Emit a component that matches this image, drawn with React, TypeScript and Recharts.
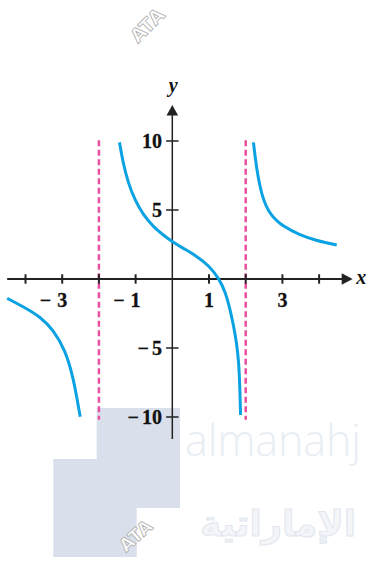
import React from 'react';
import { LineChart, Line, XAxis, YAxis, ReferenceLine, ReferenceDot } from 'recharts';

// ---- data ----
const leftBranchX = [-4.5, -4.06, -3.6, -3.24, -2.92, -2.7, -2.51];
const leftBranchY = [-1.4, -2.01, -2.73, -3.7, -5.14, -7.08, -9.98];

const middleBranchX = [-1.44, -1.34, -1.2, -1.02, -0.79, -0.52, -0.25, 0, 0.3, 0.62, 1.0, 1.28, 1.44, 1.57, 1.67, 1.75, 1.81, 1.84, 1.86];
const middleBranchY = [9.9, 8.4, 6.95, 5.72, 4.64, 3.79, 3.19, 2.7, 2.22, 1.74, 0.98, 0, -0.92, -2.13, -3.4, -4.6, -6.0, -7.8, -9.86];

const rightBranchX = [2.21, 2.3, 2.44, 2.66, 3.02, 3.48, 3.93, 4.48];
const rightBranchY = [9.9, 7.9, 5.96, 4.64, 3.79, 3.19, 2.78, 2.46];

const asymptoteX = [-2, 2];
const asymptoteTop = 10.05;
const asymptoteBottom = -10.2;

const xTickValues = [-4, -3, -2, -1, 1, 2, 3, 4];
const xTickLabelValues = [-3, -1, 1, 3];
const xTickLabels = ['−3', '−1', '1', '3'];
const yTickValues = [10, 5, -5, -10];
const yTickLabels = ['10', '5', '−5', '−10'];

const xAxisStart = -4.5;
const xAxisEnd = 4.8;
const xArrowTip = 4.915;
const yAxisStart = -11.6;
const yAxisEnd = 12.3;
const yArrowTip = 12.61;

const toPoints = (xs: number[], ys: number[]) => xs.map((x, i) => ({ x, y: ys[i] }));
const leftData = toPoints(leftBranchX, leftBranchY);
const middleData = toPoints(middleBranchX, middleBranchY);
const rightData = toPoints(rightBranchX, rightBranchY);

const CURVE = '#0aa2e2';
const PINK = '#e8509f';
const AXIS = '#222222';
const FONT = '"Liberation Serif", "Times New Roman", serif';
const FS = 20;
const DIGIT_W = 10;

function numLabel(label: string, x: number, baseline: number, mode: 'center' | 'right', gap: number) {
  const neg = label.startsWith('−');
  const digits = neg ? label.slice(1) : label;
  const w = digits.length * DIGIT_W;
  const left = mode === 'center' ? x - w / 2 : x - w;
  return (
    <g>
      <text x={left} y={baseline} textAnchor="start" fontFamily={FONT} fontWeight="bold" fontSize={FS} fill="#111" stroke="#111" strokeWidth={0.3}>
        {digits}
      </text>
      {neg && (
        <text x={left - gap} y={baseline} textAnchor="end" fontFamily={FONT} fontWeight="bold" fontSize={FS} fill="#111" stroke="#111" strokeWidth={0.3}>
          −
        </text>
      )}
    </g>
  );
}

export default function App() {
  return (
    <div style={{ position: 'absolute', left: 0, top: 0, width: 370, height: 562, background: '#ffffff', overflow: 'hidden' }}>
      <svg width={370} height={562} style={{ position: 'absolute', left: 0, top: 0 }}>
        <polygon
          points="96.7,408 180,408 180,508 136.7,508 136.7,557 53.3,557 53.3,459 96.7,459"
          fill="#d9dfeb"
        />
        <text x={185} y={456} fontFamily='"Open Sans", sans-serif' fontWeight={300} fontSize={44} fill="#e9edf4" textLength={176} lengthAdjust="spacingAndGlyphs">
          almanahj
        </text>
        <text x={200} y={536} fontFamily='"DejaVu Sans", sans-serif' fontWeight="bold" fontSize={36} fill="#f3f5f9" stroke="#e1e6ee" strokeWidth={1} textLength={156} lengthAdjust="spacingAndGlyphs">
          الإماراتية
        </text>
        <text x={138} y={44} transform="rotate(-45 138 44)" fontFamily='"DejaVu Sans", sans-serif' fontWeight="bold" fontSize={19} fill="#ffffff" stroke="#b5b5b5" strokeWidth={0.9}>
          ATA
        </text>
        <text x={126} y={553} transform="rotate(-42 126 553)" fontFamily='"DejaVu Sans", sans-serif' fontWeight="bold" fontSize={18} fill="#ffffff" stroke="#b5b5b5" strokeWidth={0.9}>
          ATA
        </text>
      </svg>
      <div style={{ position: 'absolute', left: 0, top: 0 }}>
        <LineChart width={370} height={562} margin={{ top: 99.6, right: 14.2, bottom: 103.6, left: 3.5 }}>
          <XAxis type="number" dataKey="x" domain={[-4.6, 5.0]} hide allowDataOverflow />
          <YAxis type="number" dataKey="y" domain={[-13, 13]} hide allowDataOverflow />

          {asymptoteX.map((ax) => (
            <ReferenceLine
              key={'as' + ax}
              segment={[{ x: ax, y: asymptoteTop }, { x: ax, y: asymptoteBottom }]}
              stroke={PINK}
              strokeWidth={2.5}
              strokeDasharray="6 3.5"
            />
          ))}

          <ReferenceLine segment={[{ x: xAxisStart, y: 0 }, { x: xAxisEnd, y: 0 }]} stroke={AXIS} strokeWidth={2} />
          <ReferenceLine segment={[{ x: 0, y: yAxisStart }, { x: 0, y: yAxisEnd }]} stroke={AXIS} strokeWidth={1.5} />

          {xTickValues.map((v) => (
            <ReferenceLine key={'xt' + v} segment={[{ x: v, y: -0.34 }, { x: v, y: 0.34 }]} stroke={AXIS} strokeWidth={2} />
          ))}
          {yTickValues.map((v) => (
            <ReferenceLine key={'yt' + v} segment={[{ x: -0.17, y: v }, { x: 0.17, y: v }]} stroke={AXIS} strokeWidth={1.5} />
          ))}

          {xTickLabelValues.map((v, i) => (
            <ReferenceDot
              key={'xl' + v}
              x={v}
              y={0}
              r={0}
              shape={(p: any) => numLabel(xTickLabels[i], p.cx, p.cy + 27.5, 'center', 6)}
            />
          ))}
          {yTickValues.map((v, i) => (
            <ReferenceDot
              key={'yl' + v}
              x={0}
              y={v}
              r={0}
              shape={(p: any) => numLabel(yTickLabels[i], p.cx - 10.3, p.cy + 6.7, 'right', 3)}
            />
          ))}

          <ReferenceDot
            x={xArrowTip}
            y={0}
            r={0}
            shape={(p: any) => (
              <g>
                <polygon points={`${p.cx},${p.cy} ${p.cx - 11},${p.cy - 5.8} ${p.cx - 11},${p.cy + 5.8}`} fill={AXIS} />
                <text x={p.cx + 3.5} y={p.cy + 4.5} fontFamily={FONT} fontStyle="italic" fontWeight="bold" fontSize={FS} fill="#111">
                  x
                </text>
              </g>
            )}
          />
          <ReferenceDot
            x={0}
            y={yArrowTip}
            r={0}
            shape={(p: any) => (
              <g>
                <polygon points={`${p.cx},${p.cy} ${p.cx - 5.8},${p.cy + 10.5} ${p.cx + 5.8},${p.cy + 10.5}`} fill={AXIS} />
                <text x={p.cx + 1} y={p.cy - 13} textAnchor="middle" fontFamily={FONT} fontStyle="italic" fontWeight="bold" fontSize={FS} fill="#111">
                  y
                </text>
              </g>
            )}
          />

          <Line data={leftData} dataKey="y" type="basis" stroke={CURVE} strokeWidth={3} dot={false} activeDot={false} isAnimationActive={false} />
          <Line data={middleData} dataKey="y" type="basis" stroke={CURVE} strokeWidth={3} dot={false} activeDot={false} isAnimationActive={false} />
          <Line data={rightData} dataKey="y" type="basis" stroke={CURVE} strokeWidth={3} dot={false} activeDot={false} isAnimationActive={false} />
        </LineChart>
      </div>
    </div>
  );
}
